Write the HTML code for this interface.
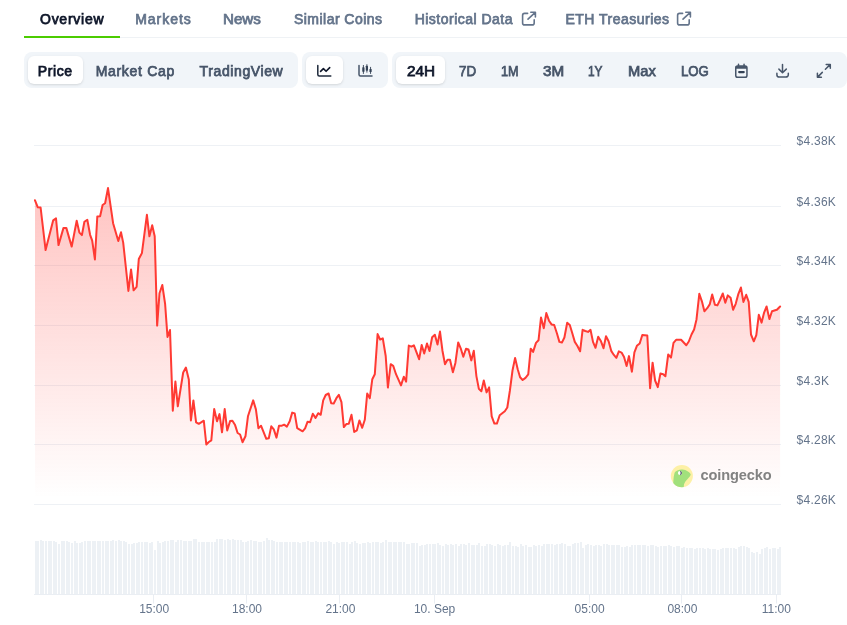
<!DOCTYPE html>
<html><head><meta charset="utf-8">
<style>
html,body{margin:0;padding:0;background:#fff;}
body{width:847px;height:625px;overflow:hidden;position:relative;font-family:"Liberation Sans",sans-serif;}
.t{position:absolute;white-space:nowrap;line-height:1;}
.tab{font-size:14px;font-weight:400;color:#64748b;top:12px;-webkit-text-stroke:0.75px currentColor;}
.btn{font-size:14px;font-weight:400;color:#475569;top:64px;-webkit-text-stroke:0.75px currentColor;}
.ax{font-size:12px;color:#64748b;}
.grp{position:absolute;top:52px;height:36px;background:#f1f5f9;border-radius:8px;}
.act{position:absolute;top:56px;height:28px;background:#fff;border-radius:6px;box-shadow:0 1px 3px rgba(0,0,0,.1),0 1px 2px -1px rgba(0,0,0,.1);}
#w{position:absolute;left:0;top:0;width:847px;height:625px;will-change:transform;}
</style></head><body><div id="w">
<div style="position:absolute;left:24px;top:37px;width:823px;height:1px;background:#eff2f5"></div>
<div style="position:absolute;left:24px;top:36px;width:96px;height:2px;background:#4bcc00"></div>
<div class="grp" style="left:24px;width:274px"></div>
<div class="grp" style="left:302px;width:86px"></div>
<div class="grp" style="left:392px;width:455px"></div>
<div class="act" style="left:28px;width:55px"></div>
<div class="act" style="left:306px;width:37px"></div>
<div class="act" style="left:396px;width:49px"></div>
<div class="t tab" style="left:40.0px;color:#0f172a;letter-spacing:0.74px">Overview</div>
<div class="t tab" style="left:135.2px;color:#64748b;letter-spacing:0.96px">Markets</div>
<div class="t tab" style="left:223.2px;color:#64748b;transform:scaleX(1.082);transform-origin:0 0">News</div>
<div class="t tab" style="left:294.0px;color:#64748b;letter-spacing:0.46px">Similar Coins</div>
<div class="t tab" style="left:414.7px;color:#64748b;letter-spacing:0.48px">Historical Data</div>
<div class="t tab" style="left:565.5px;color:#64748b;letter-spacing:0.48px">ETH Treasuries</div>
<div class="t btn" style="left:37.7px;color:#0f172a;letter-spacing:0.63px">Price</div>
<div class="t btn" style="left:95.7px;color:#475569;letter-spacing:0.69px">Market Cap</div>
<div class="t btn" style="left:199.6px;color:#475569;letter-spacing:0.61px">TradingView</div>
<div class="t btn" style="left:407.0px;color:#0f172a;transform:scaleX(1.093);transform-origin:0 0">24H</div>
<div class="t btn" style="left:458.5px;color:#475569;transform:scaleX(0.956);transform-origin:0 0">7D</div>
<div class="t btn" style="left:500.5px;color:#475569;transform:scaleX(0.907);transform-origin:0 0">1M</div>
<div class="t btn" style="left:543.0px;color:#475569;transform:scaleX(1.087);transform-origin:0 0">3M</div>
<div class="t btn" style="left:587.9px;color:#475569;transform:scaleX(0.849);transform-origin:0 0">1Y</div>
<div class="t btn" style="left:627.5px;color:#475569;transform:scaleX(1.048);transform-origin:0 0">Max</div>
<div class="t btn" style="left:681.0px;color:#475569;transform:scaleX(0.94);transform-origin:0 0">LOG</div>
<svg width="847" height="625" viewBox="0 0 847 625" style="position:absolute;left:0;top:0">
<defs><linearGradient id="ag" x1="0" y1="0" x2="0" y2="1" gradientUnits="objectBoundingBox"><stop offset="0" stop-color="#ff3a33" stop-opacity="0.30"/><stop offset="1" stop-color="#ff3a33" stop-opacity="0.0"/></linearGradient></defs>
<rect x="34" y="145" width="747" height="1" fill="#eef1f5"/>
<rect x="34" y="206" width="747" height="1" fill="#eef1f5"/>
<rect x="34" y="265" width="747" height="1" fill="#eef1f5"/>
<rect x="34" y="325" width="747" height="1" fill="#eef1f5"/>
<rect x="34" y="385" width="747" height="1" fill="#eef1f5"/>
<rect x="34" y="444" width="747" height="1" fill="#eef1f5"/>
<rect x="34" y="504" width="747" height="1" fill="#eef1f5"/>
<path d="M35.00,200.30 L37.80,207.30 L40.60,207.50 L45.60,250.10 L53.20,220.30 L56.00,218.40 L58.50,245.10 L63.50,227.90 L66.30,227.90 L71.70,246.60 L76.70,220.70 L79.40,232.60 L81.90,235.10 L84.40,221.70 L87.30,219.70 L90.10,234.80 L92.20,240.70 L94.90,259.40 L97.30,216.50 L100.10,216.30 L102.60,205.00 L105.10,203.20 L108.00,188.10 L113.10,223.20 L118.30,241.00 L121.00,232.30 L123.20,242.60 L128.40,291.00 L131.05,269.40 L133.60,290.30 L136.60,286.90 L138.80,259.00 L141.90,253.10 L146.90,214.80 L149.40,236.30 L152.20,225.30 L154.70,236.30 L157.15,325.60 L159.50,293.20 L162.30,285.00 L165.10,303.80 L167.50,336.90 L170.00,330.00 L172.80,410.70 L175.40,381.50 L177.80,406.30 L183.20,372.50 L185.90,367.60 L188.80,379.40 L190.90,420.40 L193.40,400.40 L196.10,422.30 L198.80,423.80 L203.80,420.70 L206.30,444.50 L208.80,442.00 L211.30,440.30 L214.20,409.00 L217.00,421.30 L219.50,414.10 L222.00,432.30 L224.70,409.00 L227.20,430.50 L230.10,421.10 L232.40,420.70 L235.10,425.10 L237.60,433.00 L240.10,434.50 L242.55,442.30 L245.45,436.30 L247.95,416.30 L253.20,400.40 L255.90,409.40 L258.40,428.20 L261.00,425.70 L266.30,438.80 L268.80,438.20 L271.30,426.30 L273.80,429.40 L276.50,437.60 L279.00,425.70 L281.90,425.70 L284.10,424.70 L286.90,426.60 L289.70,421.30 L292.20,412.60 L294.70,413.40 L297.20,428.20 L302.60,431.30 L305.10,428.40 L307.60,421.70 L310.10,422.30 L312.80,413.80 L315.50,417.90 L318.20,413.20 L320.70,414.80 L323.20,400.40 L325.70,395.00 L328.60,393.50 L331.20,403.20 L333.70,403.50 L336.40,398.20 L338.85,394.80 L341.45,402.20 L343.85,427.10 L346.30,424.10 L348.80,423.80 L351.50,414.80 L354.20,431.90 L356.90,430.30 L359.40,420.40 L362.20,427.80 L364.80,419.80 L367.20,393.55 L369.80,398.20 L372.30,379.20 L374.80,374.20 L377.60,334.10 L380.10,339.50 L382.80,338.30 L385.70,356.00 L387.90,387.55 L390.70,364.20 L393.20,365.80 L396.00,374.20 L401.00,385.40 L403.80,376.70 L406.10,381.70 L408.80,345.60 L411.40,346.70 L413.90,345.40 L419.10,359.20 L421.70,345.00 L424.20,353.50 L427.00,343.50 L429.50,351.00 L432.15,337.30 L434.85,334.80 L437.50,344.50 L440.00,331.60 L442.50,351.00 L445.00,364.20 L447.50,359.80 L450.00,359.80 L452.90,372.30 L455.40,362.90 L458.20,342.50 L460.70,348.30 L463.30,356.70 L466.00,348.80 L468.50,349.50 L471.30,360.40 L473.80,350.80 L476.40,376.10 L478.85,388.90 L481.35,391.30 L483.80,380.50 L486.60,392.40 L489.10,387.40 L491.70,416.30 L494.40,423.60 L496.90,423.60 L499.70,415.30 L504.80,411.30 L507.30,407.50 L509.90,390.50 L512.50,370.50 L515.10,357.90 L517.70,369.20 L520.10,377.30 L522.65,380.05 L525.50,377.90 L528.25,374.40 L530.70,348.70 L533.10,351.90 L536.00,342.90 L538.50,340.30 L541.00,317.50 L543.80,328.20 L546.30,313.10 L549.00,320.70 L551.50,324.40 L554.20,325.00 L556.90,333.20 L559.40,341.90 L561.90,342.60 L564.40,337.50 L567.20,322.80 L569.80,325.00 L572.30,333.20 L574.80,341.90 L577.30,345.70 L580.10,351.30 L582.60,329.80 L585.30,331.00 L588.00,331.90 L590.50,329.80 L593.00,341.90 L595.50,347.80 L598.20,336.70 L601.00,341.30 L603.50,348.20 L606.00,336.30 L608.60,341.30 L611.35,351.15 L613.85,354.95 L616.35,357.85 L618.85,351.40 L621.55,352.60 L624.05,357.10 L626.60,366.10 L629.00,356.10 L631.90,371.70 L634.40,352.30 L636.90,345.80 L639.70,343.50 L642.30,335.00 L647.30,335.60 L650.10,388.20 L652.60,362.70 L655.10,380.50 L657.80,387.10 L660.40,373.60 L663.20,374.20 L665.40,376.30 L668.20,354.50 L671.00,357.60 L673.50,342.90 L676.10,339.80 L681.10,339.80 L686.30,345.25 L688.80,341.50 L691.50,334.50 L694.10,329.45 L696.50,319.40 L699.30,293.80 L701.90,301.30 L704.40,311.30 L707.20,308.20 L709.70,304.40 L712.20,294.40 L714.90,304.80 L717.40,305.40 L720.00,300.00 L722.80,293.50 L725.30,302.80 L727.80,295.40 L730.60,297.80 L733.10,309.80 L735.70,303.80 L738.20,294.40 L740.90,287.50 L743.40,301.90 L746.20,294.80 L748.70,301.90 L751.00,334.50 L753.80,341.30 L756.30,335.10 L758.80,314.80 L761.60,322.60 L764.10,312.60 L766.60,306.50 L769.40,319.10 L772.00,311.30 L776.90,309.80 L780.10,306.50 L780.10,498 L35.00,498 Z" fill="url(#ag)"/>
<path d="M35.00,200.30 L37.80,207.30 L40.60,207.50 L45.60,250.10 L53.20,220.30 L56.00,218.40 L58.50,245.10 L63.50,227.90 L66.30,227.90 L71.70,246.60 L76.70,220.70 L79.40,232.60 L81.90,235.10 L84.40,221.70 L87.30,219.70 L90.10,234.80 L92.20,240.70 L94.90,259.40 L97.30,216.50 L100.10,216.30 L102.60,205.00 L105.10,203.20 L108.00,188.10 L113.10,223.20 L118.30,241.00 L121.00,232.30 L123.20,242.60 L128.40,291.00 L131.05,269.40 L133.60,290.30 L136.60,286.90 L138.80,259.00 L141.90,253.10 L146.90,214.80 L149.40,236.30 L152.20,225.30 L154.70,236.30 L157.15,325.60 L159.50,293.20 L162.30,285.00 L165.10,303.80 L167.50,336.90 L170.00,330.00 L172.80,410.70 L175.40,381.50 L177.80,406.30 L183.20,372.50 L185.90,367.60 L188.80,379.40 L190.90,420.40 L193.40,400.40 L196.10,422.30 L198.80,423.80 L203.80,420.70 L206.30,444.50 L208.80,442.00 L211.30,440.30 L214.20,409.00 L217.00,421.30 L219.50,414.10 L222.00,432.30 L224.70,409.00 L227.20,430.50 L230.10,421.10 L232.40,420.70 L235.10,425.10 L237.60,433.00 L240.10,434.50 L242.55,442.30 L245.45,436.30 L247.95,416.30 L253.20,400.40 L255.90,409.40 L258.40,428.20 L261.00,425.70 L266.30,438.80 L268.80,438.20 L271.30,426.30 L273.80,429.40 L276.50,437.60 L279.00,425.70 L281.90,425.70 L284.10,424.70 L286.90,426.60 L289.70,421.30 L292.20,412.60 L294.70,413.40 L297.20,428.20 L302.60,431.30 L305.10,428.40 L307.60,421.70 L310.10,422.30 L312.80,413.80 L315.50,417.90 L318.20,413.20 L320.70,414.80 L323.20,400.40 L325.70,395.00 L328.60,393.50 L331.20,403.20 L333.70,403.50 L336.40,398.20 L338.85,394.80 L341.45,402.20 L343.85,427.10 L346.30,424.10 L348.80,423.80 L351.50,414.80 L354.20,431.90 L356.90,430.30 L359.40,420.40 L362.20,427.80 L364.80,419.80 L367.20,393.55 L369.80,398.20 L372.30,379.20 L374.80,374.20 L377.60,334.10 L380.10,339.50 L382.80,338.30 L385.70,356.00 L387.90,387.55 L390.70,364.20 L393.20,365.80 L396.00,374.20 L401.00,385.40 L403.80,376.70 L406.10,381.70 L408.80,345.60 L411.40,346.70 L413.90,345.40 L419.10,359.20 L421.70,345.00 L424.20,353.50 L427.00,343.50 L429.50,351.00 L432.15,337.30 L434.85,334.80 L437.50,344.50 L440.00,331.60 L442.50,351.00 L445.00,364.20 L447.50,359.80 L450.00,359.80 L452.90,372.30 L455.40,362.90 L458.20,342.50 L460.70,348.30 L463.30,356.70 L466.00,348.80 L468.50,349.50 L471.30,360.40 L473.80,350.80 L476.40,376.10 L478.85,388.90 L481.35,391.30 L483.80,380.50 L486.60,392.40 L489.10,387.40 L491.70,416.30 L494.40,423.60 L496.90,423.60 L499.70,415.30 L504.80,411.30 L507.30,407.50 L509.90,390.50 L512.50,370.50 L515.10,357.90 L517.70,369.20 L520.10,377.30 L522.65,380.05 L525.50,377.90 L528.25,374.40 L530.70,348.70 L533.10,351.90 L536.00,342.90 L538.50,340.30 L541.00,317.50 L543.80,328.20 L546.30,313.10 L549.00,320.70 L551.50,324.40 L554.20,325.00 L556.90,333.20 L559.40,341.90 L561.90,342.60 L564.40,337.50 L567.20,322.80 L569.80,325.00 L572.30,333.20 L574.80,341.90 L577.30,345.70 L580.10,351.30 L582.60,329.80 L585.30,331.00 L588.00,331.90 L590.50,329.80 L593.00,341.90 L595.50,347.80 L598.20,336.70 L601.00,341.30 L603.50,348.20 L606.00,336.30 L608.60,341.30 L611.35,351.15 L613.85,354.95 L616.35,357.85 L618.85,351.40 L621.55,352.60 L624.05,357.10 L626.60,366.10 L629.00,356.10 L631.90,371.70 L634.40,352.30 L636.90,345.80 L639.70,343.50 L642.30,335.00 L647.30,335.60 L650.10,388.20 L652.60,362.70 L655.10,380.50 L657.80,387.10 L660.40,373.60 L663.20,374.20 L665.40,376.30 L668.20,354.50 L671.00,357.60 L673.50,342.90 L676.10,339.80 L681.10,339.80 L686.30,345.25 L688.80,341.50 L691.50,334.50 L694.10,329.45 L696.50,319.40 L699.30,293.80 L701.90,301.30 L704.40,311.30 L707.20,308.20 L709.70,304.40 L712.20,294.40 L714.90,304.80 L717.40,305.40 L720.00,300.00 L722.80,293.50 L725.30,302.80 L727.80,295.40 L730.60,297.80 L733.10,309.80 L735.70,303.80 L738.20,294.40 L740.90,287.50 L743.40,301.90 L746.20,294.80 L748.70,301.90 L751.00,334.50 L753.80,341.30 L756.30,335.10 L758.80,314.80 L761.60,322.60 L764.10,312.60 L766.60,306.50 L769.40,319.10 L772.00,311.30 L776.90,309.80 L780.10,306.50" fill="none" stroke="#ff3a33" stroke-width="2" stroke-linejoin="round" stroke-linecap="round"/>
<path d="M35,541h2V594h-2zM37,541h2V594h-2zM40,540h2V594h-2zM42,541h2V594h-2zM45,541h2V594h-2zM48,541h2V594h-2zM50,541h2V594h-2zM53,541h2V594h-2zM55,542h2V594h-2zM58,544h2V594h-2zM61,541h2V594h-2zM63,541h2V594h-2zM66,541h2V594h-2zM68,542h2V594h-2zM71,543h2V594h-2zM74,541h2V594h-2zM76,543h2V594h-2zM79,543h2V594h-2zM81,542h2V594h-2zM84,541h2V594h-2zM87,541h2V594h-2zM89,541h2V594h-2zM92,541h2V594h-2zM94,541h2V594h-2zM97,541h2V594h-2zM99,541h2V594h-2zM102,541h2V594h-2zM105,541h2V594h-2zM107,541h2V594h-2zM110,541h2V594h-2zM112,540h2V594h-2zM115,541h2V594h-2zM118,540h2V594h-2zM120,541h2V594h-2zM123,541h2V594h-2zM125,542h2V594h-2zM128,544h2V594h-2zM131,544h2V594h-2zM133,543h2V594h-2zM136,543h2V594h-2zM138,542h2V594h-2zM141,542h2V594h-2zM144,542h2V594h-2zM146,542h2V594h-2zM149,543h2V594h-2zM151,542h2V594h-2zM154,550h2V594h-2zM157,541h2V594h-2zM159,543h2V594h-2zM162,542h2V594h-2zM164,541h2V594h-2zM167,541h2V594h-2zM170,540h2V594h-2zM172,540h2V594h-2zM175,542h2V594h-2zM177,540h2V594h-2zM180,540h2V594h-2zM183,541h2V594h-2zM185,541h2V594h-2zM188,541h2V594h-2zM190,541h2V594h-2zM193,539h2V594h-2zM195,539h2V594h-2zM198,542h2V594h-2zM201,542h2V594h-2zM203,542h2V594h-2zM206,542h2V594h-2zM208,542h2V594h-2zM211,542h2V594h-2zM214,542h2V594h-2zM216,539h2V594h-2zM219,539h2V594h-2zM221,539h2V594h-2zM224,540h2V594h-2zM227,539h2V594h-2zM229,540h2V594h-2zM232,539h2V594h-2zM234,540h2V594h-2zM237,540h2V594h-2zM240,540h2V594h-2zM242,542h2V594h-2zM245,542h2V594h-2zM247,541h2V594h-2zM250,540h2V594h-2zM253,541h2V594h-2zM255,541h2V594h-2zM258,542h2V594h-2zM260,542h2V594h-2zM263,541h2V594h-2zM266,538h2V594h-2zM268,540h2V594h-2zM271,540h2V594h-2zM273,541h2V594h-2zM276,542h2V594h-2zM279,542h2V594h-2zM281,542h2V594h-2zM284,542h2V594h-2zM286,542h2V594h-2zM289,542h2V594h-2zM292,542h2V594h-2zM294,542h2V594h-2zM297,542h2V594h-2zM299,543h2V594h-2zM302,542h2V594h-2zM304,542h2V594h-2zM307,541h2V594h-2zM310,542h2V594h-2zM312,542h2V594h-2zM315,541h2V594h-2zM317,542h2V594h-2zM320,542h2V594h-2zM323,542h2V594h-2zM325,542h2V594h-2zM328,541h2V594h-2zM330,542h2V594h-2zM333,544h2V594h-2zM336,542h2V594h-2zM338,543h2V594h-2zM341,542h2V594h-2zM343,542h2V594h-2zM346,542h2V594h-2zM349,544h2V594h-2zM351,542h2V594h-2zM354,541h2V594h-2zM356,543h2V594h-2zM359,544h2V594h-2zM362,543h2V594h-2zM364,543h2V594h-2zM367,542h2V594h-2zM369,543h2V594h-2zM372,542h2V594h-2zM375,542h2V594h-2zM377,542h2V594h-2zM380,543h2V594h-2zM382,542h2V594h-2zM385,540h2V594h-2zM388,542h2V594h-2zM390,542h2V594h-2zM393,542h2V594h-2zM395,542h2V594h-2zM398,542h2V594h-2zM400,542h2V594h-2zM403,542h2V594h-2zM406,544h2V594h-2zM408,544h2V594h-2zM411,543h2V594h-2zM413,543h2V594h-2zM416,543h2V594h-2zM419,546h2V594h-2zM421,545h2V594h-2zM424,545h2V594h-2zM426,544h2V594h-2zM429,544h2V594h-2zM432,544h2V594h-2zM434,544h2V594h-2zM437,543h2V594h-2zM439,545h2V594h-2zM442,546h2V594h-2zM445,544h2V594h-2zM447,545h2V594h-2zM450,544h2V594h-2zM452,545h2V594h-2zM455,544h2V594h-2zM458,546h2V594h-2zM460,544h2V594h-2zM463,544h2V594h-2zM465,545h2V594h-2zM468,543h2V594h-2zM471,545h2V594h-2zM473,545h2V594h-2zM476,545h2V594h-2zM478,543h2V594h-2zM481,546h2V594h-2zM484,546h2V594h-2zM486,544h2V594h-2zM489,544h2V594h-2zM491,545h2V594h-2zM494,546h2V594h-2zM497,544h2V594h-2zM499,545h2V594h-2zM502,546h2V594h-2zM504,545h2V594h-2zM507,545h2V594h-2zM509,542h2V594h-2zM512,546h2V594h-2zM515,546h2V594h-2zM517,547h2V594h-2zM520,544h2V594h-2zM522,546h2V594h-2zM525,545h2V594h-2zM528,547h2V594h-2zM530,547h2V594h-2zM533,545h2V594h-2zM535,546h2V594h-2zM538,545h2V594h-2zM541,546h2V594h-2zM543,544h2V594h-2zM546,544h2V594h-2zM548,544h2V594h-2zM551,544h2V594h-2zM554,545h2V594h-2zM556,544h2V594h-2zM559,544h2V594h-2zM561,543h2V594h-2zM564,544h2V594h-2zM567,546h2V594h-2zM569,546h2V594h-2zM572,544h2V594h-2zM574,543h2V594h-2zM577,543h2V594h-2zM580,542h2V594h-2zM582,548h2V594h-2zM585,545h2V594h-2zM587,544h2V594h-2zM590,545h2V594h-2zM593,546h2V594h-2zM595,545h2V594h-2zM598,545h2V594h-2zM600,546h2V594h-2zM603,544h2V594h-2zM606,544h2V594h-2zM608,545h2V594h-2zM611,545h2V594h-2zM613,545h2V594h-2zM616,545h2V594h-2zM618,545h2V594h-2zM621,547h2V594h-2zM624,547h2V594h-2zM626,546h2V594h-2zM629,547h2V594h-2zM631,545h2V594h-2zM634,545h2V594h-2zM637,545h2V594h-2zM639,545h2V594h-2zM642,545h2V594h-2zM644,545h2V594h-2zM647,546h2V594h-2zM650,545h2V594h-2zM652,545h2V594h-2zM655,546h2V594h-2zM657,547h2V594h-2zM660,546h2V594h-2zM663,546h2V594h-2zM665,546h2V594h-2zM668,545h2V594h-2zM670,546h2V594h-2zM673,547h2V594h-2zM676,546h2V594h-2zM678,546h2V594h-2zM681,548h2V594h-2zM683,547h2V594h-2zM686,548h2V594h-2zM689,548h2V594h-2zM691,548h2V594h-2zM694,549h2V594h-2zM696,548h2V594h-2zM699,548h2V594h-2zM702,548h2V594h-2zM704,549h2V594h-2zM707,548h2V594h-2zM709,549h2V594h-2zM712,549h2V594h-2zM714,549h2V594h-2zM717,550h2V594h-2zM720,549h2V594h-2zM722,548h2V594h-2zM725,548h2V594h-2zM727,548h2V594h-2zM730,548h2V594h-2zM733,548h2V594h-2zM735,549h2V594h-2zM738,547h2V594h-2zM740,546h2V594h-2zM743,546h2V594h-2zM746,547h2V594h-2zM748,548h2V594h-2zM751,552h2V594h-2zM753,553h2V594h-2zM756,552h2V594h-2zM759,554h2V594h-2zM761,549h2V594h-2zM764,548h2V594h-2zM766,547h2V594h-2zM769,549h2V594h-2zM772,548h2V594h-2zM774,548h2V594h-2zM777,549h2V594h-2zM779,547h2V594h-2z" fill="#edf1f5" shape-rendering="crispEdges"/>
<rect x="34" y="594" width="747" height="1" fill="#eaeef3"/>
<rect x="153" y="594" width="1" height="9.5" fill="#eaeef3"/>
<rect x="246" y="594" width="1" height="9.5" fill="#eaeef3"/>
<rect x="339" y="594" width="1" height="9.5" fill="#eaeef3"/>
<rect x="434" y="594" width="1" height="9.5" fill="#eaeef3"/>
<rect x="589" y="594" width="1" height="9.5" fill="#eaeef3"/>
<rect x="681" y="594" width="1" height="9.5" fill="#eaeef3"/>
<rect x="776" y="594" width="1" height="9.5" fill="#eaeef3"/>
</svg>
<div class="t ax" style="left:796.6px;top:135.4px;letter-spacing:.25px">$4.38K</div>
<div class="t ax" style="left:796.6px;top:196.4px;letter-spacing:.25px">$4.36K</div>
<div class="t ax" style="left:796.6px;top:255.4px;letter-spacing:.25px">$4.34K</div>
<div class="t ax" style="left:796.6px;top:315.4px;letter-spacing:.25px">$4.32K</div>
<div class="t ax" style="left:796.6px;top:375.4px;letter-spacing:.25px">$4.3K</div>
<div class="t ax" style="left:796.6px;top:434.4px;letter-spacing:.25px">$4.28K</div>
<div class="t ax" style="left:796.6px;top:494.4px;letter-spacing:.25px">$4.26K</div>
<div class="t ax" style="left:114.19999999999999px;width:80px;text-align:center;top:602.8px">15:00</div>
<div class="t ax" style="left:207.0px;width:80px;text-align:center;top:602.8px">18:00</div>
<div class="t ax" style="left:300.4px;width:80px;text-align:center;top:602.8px">21:00</div>
<div class="t ax" style="left:394.6px;width:80px;text-align:center;top:602.8px">10. Sep</div>
<div class="t ax" style="left:549.6px;width:80px;text-align:center;top:602.8px">05:00</div>
<div class="t ax" style="left:642.4px;width:80px;text-align:center;top:602.8px">08:00</div>
<div class="t ax" style="left:736.4px;width:80px;text-align:center;top:602.8px">11:00</div>
<svg width="847" height="100" viewBox="0 0 847 100" style="position:absolute;left:0;top:0" fill="none" stroke-linecap="round" stroke-linejoin="round">
<!-- external link icons -->
<g stroke="#64748b" stroke-width="1.6">
<path d="M527.6,13.4H524.6a2,2 0 0 0 -2,2V22.9a2,2 0 0 0 2,2H532.2a2,2 0 0 0 2,-2V19.9"/>
<path d="M528,19.2L535.3,12.3M530.8,12.2H535.4V16.9"/>
<path d="M682.6,13.4H679.6a2,2 0 0 0 -2,2V22.9a2,2 0 0 0 2,2H687.2a2,2 0 0 0 2,-2V19.9"/>
<path d="M683,19.2L690.3,12.3M685.8,12.2H690.4V16.9"/>
</g>
<!-- line chart icon -->
<g stroke="#0f172a" stroke-width="1.5">
<path d="M317.8,65.5V74.5a1.5,1.5 0 0 0 1.5,1.5H330.8" stroke="#1e293b"/>
<path d="M320.6,71.4L323.4,68.6L326.1,71.3L329.7,67.6" stroke-width="1.6"/>
</g>
<!-- candlestick icon -->
<g stroke="#475569" stroke-width="1.5">
<path d="M359,65.5V74.5a1.5,1.5 0 0 0 1.5,1.5H372"/>
</g>
<g stroke="#334155" stroke-width="0.9">
<path d="M363.4,65.4V73.5M366.9,64.6V72.2M370.55,67.3V73.5"/>
</g>
<g fill="#334155" stroke="none">
<rect x="362.3" y="67.2" width="2.2" height="4.6" rx="0.6"/>
<rect x="365.8" y="65.7" width="2.2" height="5" rx="0.6"/>
<rect x="369.45" y="68.9" width="2.2" height="3.1" rx="0.6"/>
</g>
<!-- calendar -->
<g stroke="#475569" stroke-width="1.5">
<rect x="735.75" y="66.05" width="11.2" height="11.2" rx="1.8"/>
<path d="M738.5,64.2V66M744.05,64.2V66"/>
<path d="M739.2,72.05H743.7" stroke="#334155" stroke-width="2.3"/>
</g>
<rect x="735.75" y="66.05" width="11.2" height="2.7" fill="#475569"/>
<!-- download -->
<g stroke="#475569" stroke-width="1.5">
<path d="M782.5,64.6V72.6M778.9,69.1L782.5,72.7L786.3,69.1"/>
<path d="M776.9,73.3V74.7a2.4,2.4 0 0 0 2.4,2.4H785.9a2.4,2.4 0 0 0 2.4,-2.4V73.3"/>
</g>
<!-- expand -->
<g stroke="#475569" stroke-width="1.5">
<path d="M826.2,64.4H830.3V68.3M830.1,64.6L825.4,69.3"/>
<path d="M817.4,73.2V77.3H821.4M817.6,77.1L822.3,72.4"/>
</g>
</svg>
<!-- coingecko watermark -->
<svg width="30" height="30" viewBox="667 461 30 30" style="position:absolute;left:667px;top:461px">
<defs><clipPath id="cgc"><circle cx="681.85" cy="476.1" r="11.05"/></clipPath></defs>
<circle cx="681.85" cy="476.1" r="11.05" fill="#fdf0a6"/>
<g clip-path="url(#cgc)">
<path d="M675.3,471.8C676.6,470.6 678.8,469.8 681.6,469.5C683,469.4 684.3,469.6 685.3,470C687.2,470.8 688.9,472 690,473.2C690.7,474 690.9,474.7 690.5,475.3C690.1,476.1 689.5,476.8 688.9,477.5C687.7,478.8 686.5,480 685.6,481.3C684.8,482.5 684.2,483.5 684,484.5C683.8,485.7 683.7,487 683.8,489L672,489C672.6,486.5 673.1,484.5 673.3,482C673.5,479.5 673.6,477 674.1,475C674.4,473.5 674.7,472.5 675.3,471.8Z" fill="#a1e07c"/>
<circle cx="680" cy="473" r="2.1" fill="#ffffff"/>
<path d="M680.3,471.05A2.1,2.1 0 0 1 680.3,474.95A3.4,3.4 0 0 0 680.3,471.05Z" fill="#4d4d68" stroke="#4d4d68" stroke-width="0.5"/>
</g>
</svg>
<div class="t" style="left:700.4px;top:468.3px;font-size:14.6px;font-weight:700;color:#828282;letter-spacing:-0.1px">coingecko</div>

</div></body></html>
